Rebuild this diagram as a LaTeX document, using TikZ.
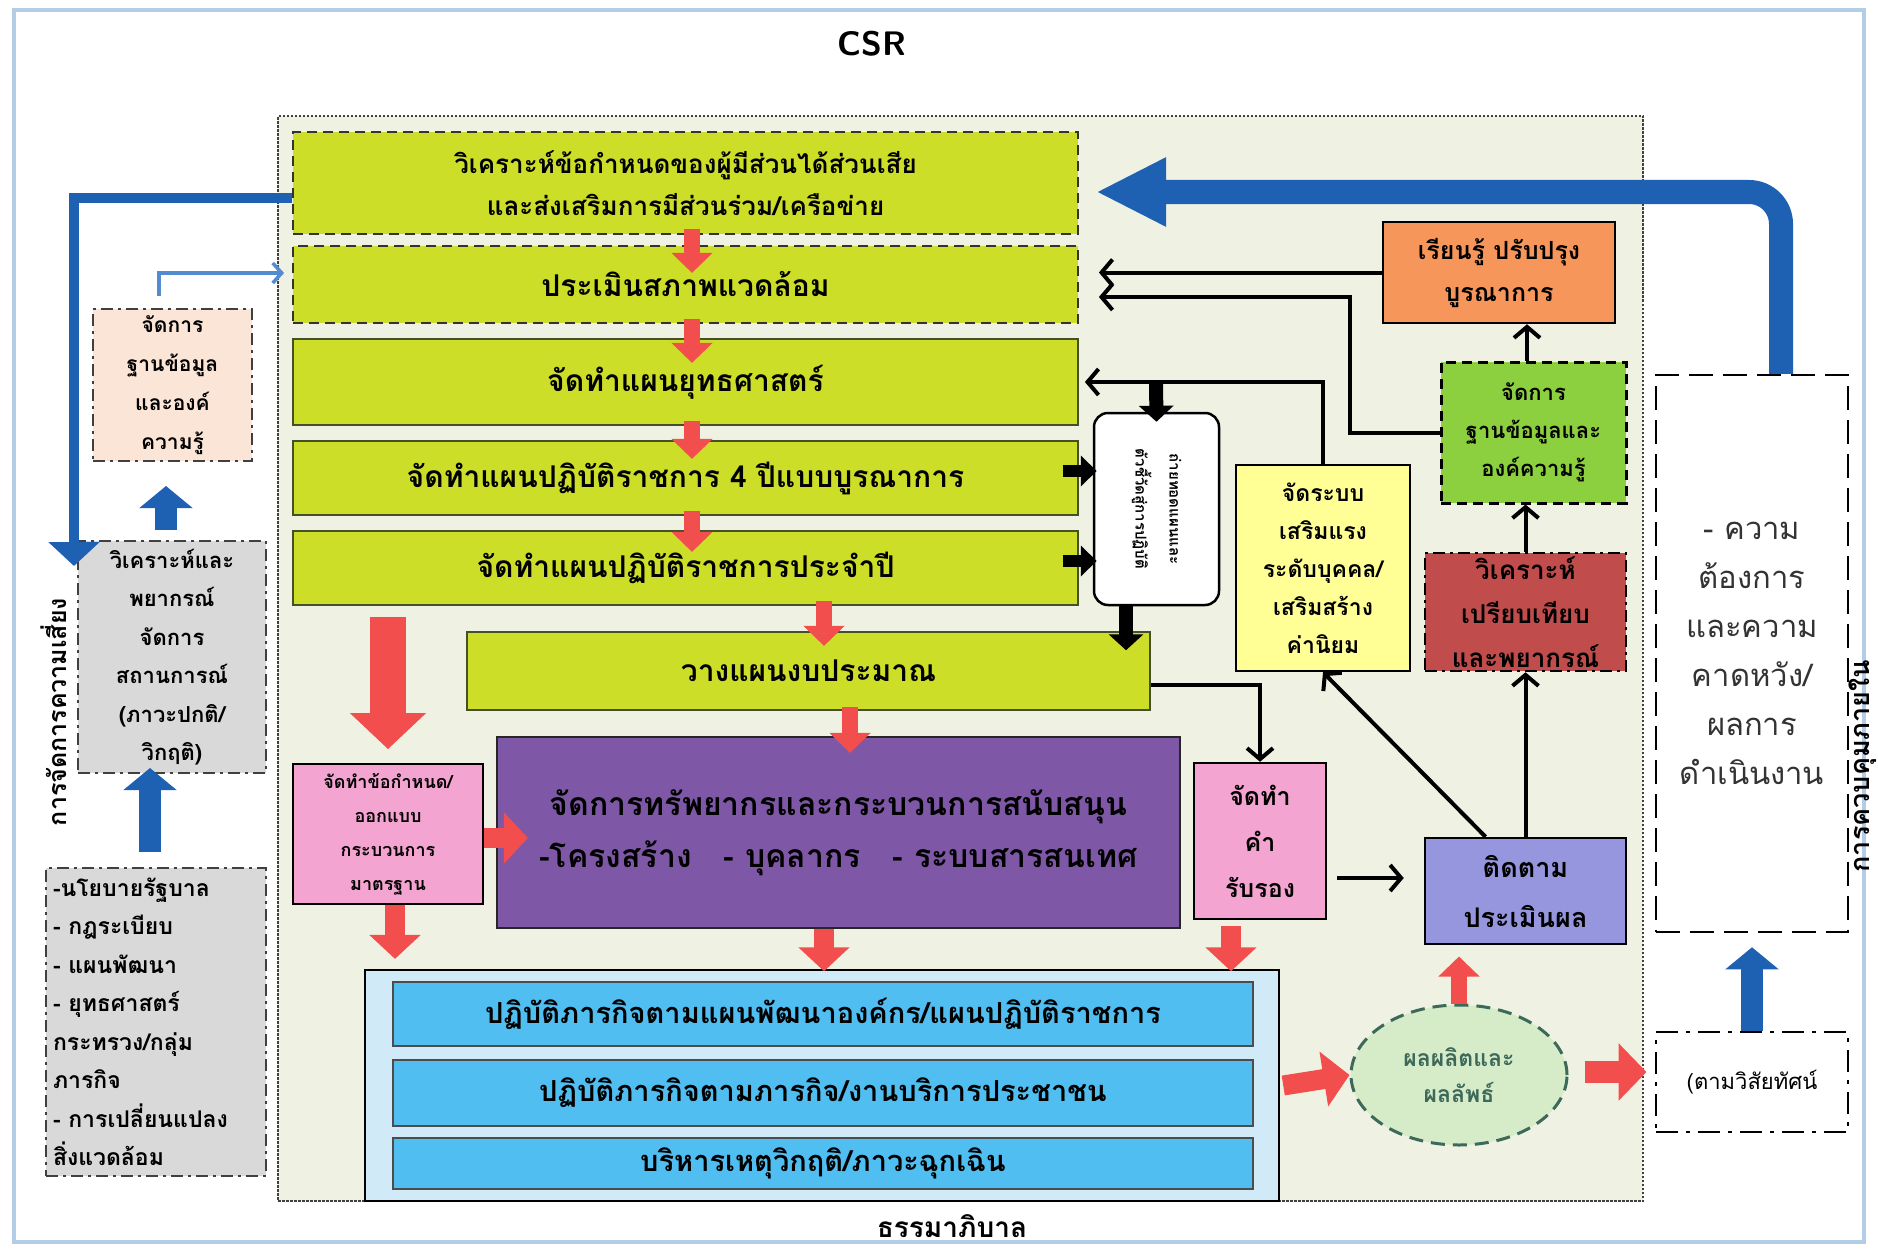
\documentclass[tikz,border=0pt]{standalone}
\usepackage{fontspec}
\setmainfont{Liberation Sans}
\newfontfamily\thai[Script=Thai]{Loma}
\usetikzlibrary{arrows.meta,shapes.geometric,calc}
\definecolor{limeC}{RGB}{205,222,40}
\definecolor{areaC}{RGB}{239,242,226}
\definecolor{pinkC}{RGB}{244,164,208}
\definecolor{purpC}{RGB}{126,88,166}
\definecolor{skyC}{RGB}{80,190,240}
\definecolor{skyL}{RGB}{208,234,248}
\definecolor{orC}{RGB}{247,150,90}
\definecolor{grC}{RGB}{140,208,64}
\definecolor{rdC}{RGB}{192,76,76}
\definecolor{ylC}{RGB}{255,255,150}
\definecolor{lavC}{RGB}{150,150,222}
\definecolor{ellC}{RGB}{214,236,200}
\definecolor{ellB}{RGB}{60,105,90}
\definecolor{peachC}{RGB}{251,229,214}
\definecolor{grayC}{RGB}{217,217,217}
\definecolor{blueA}{RGB}{30,96,178}
\definecolor{blueL}{RGB}{84,140,210}
\definecolor{redA}{RGB}{242,78,78}
\definecolor{frameC}{RGB}{180,205,230}
\definecolor{boxB}{RGB}{70,80,40}
\newcommand\fA{\fontsize{30}{42}\selectfont}
\newcommand\fBone{\fontsize{26}{42}\selectfont}
\begin{document}
\begin{tikzpicture}[x=1pt,y=-1pt,
  bx/.style={draw=boxB, line width=1.8pt, inner sep=2pt, align=center, font=\thai\bfseries\fA},
  limebox/.style={bx, fill=limeC},
  dashb/.style={dash pattern=on 10pt off 6pt},
  dashdot/.style={dash pattern=on 12pt off 5pt on 3pt off 5pt},
  sbox/.style={draw=black, line width=2.5pt, inner sep=2pt, align=center},
  redarr/.style={draw=redA, line width=16pt, -{Triangle[length=20pt,width=40pt]}},
  bigred/.style={draw=redA, line width=36pt, -{Triangle[length=36pt,width=74pt]}},
  bluearr/.style={draw=blueA, line width=22pt, -{Triangle[length=22pt,width=52pt]}},
  blkarr/.style={draw=black, line width=12pt, -{Triangle[length=16pt,width=30pt]}},
  conn/.style={draw=black, line width=4pt, -{Straight Barb[length=11pt,width=26pt]}}
]
\useasboundingbox (0,0) rectangle (1878,1252);
\fill[white] (0,0) rectangle (1878,1252);
\draw[frameC, line width=4pt] (14,10) rectangle (1864,1242);

\node[font=\sffamily\bfseries\fontsize{34}{40}\selectfont] (csr) at (872,44) {CSR};

% main area
\node[draw=black!75, dash pattern=on 2.5pt off 1.5pt, line width=1.5pt, fill=areaC,
  minimum width=1365pt, minimum height=1085pt, inner sep=0] (area) at (960.5,658.5) {};
\node[font=\thai\bfseries\fontsize{28}{32}\selectfont] (gov) at (952,1226) {ธรรมาภิบาล};

% lime boxes
\node[limebox, dashb, draw=black!80, minimum width=785pt, minimum height=102pt, font=\thai\bfseries\fBone] (b1) at (685.5,183)
  {วิเคราะห์ข้อกำหนดของผู้มีส่วนได้ส่วนเสีย\\และส่งเสริมการมีส่วนร่วม/เครือข่าย};
\node[limebox, dashb, draw=black!80, minimum width=785pt, minimum height=77pt] (b2) at (685.5,284.5) {ประเมินสภาพแวดล้อม};
\node[limebox, minimum width=785pt, minimum height=86pt] (b3) at (685.5,382) {จัดทำแผนยุทธศาสตร์};
\node[limebox, minimum width=785pt, minimum height=74pt] (b4) at (685.5,478) {จัดทำแผนปฏิบัติราชการ 4 ปีแบบบูรณาการ};
\node[limebox, minimum width=785pt, minimum height=74pt] (b5) at (685.5,568) {จัดทำแผนปฏิบัติราชการประจำปี};
\node[limebox, minimum width=683pt, minimum height=78pt] (bud) at (808.5,671) {วางแผนงบประมาณ};

% middle
\node[bx, draw=black, fill=pinkC, minimum width=190pt, minimum height=140pt, font=\thai\bfseries\fontsize{18}{34}\selectfont] (pl) at (388,834)
  {จัดทำข้อกำหนด/\\ออกแบบ\\กระบวนการ\\มาตรฐาน};
\node[bx, draw=black!85, line width=2.5pt, fill=purpC, minimum width=683pt, minimum height=191pt, font=\thai\bfseries\fontsize{32}{52}\selectfont] (pu) at (838.5,832.5)
  {จัดการทรัพยากรและกระบวนการสนับสนุน\\-โครงสร้าง\quad - บุคลากร\quad - ระบบสารสนเทศ};
\node[sbox, fill=pinkC, minimum width=132pt, minimum height=156pt, font=\thai\bfseries\fontsize{25}{46}\selectfont] (pr) at (1260,841) {จัดทำ\\คำ\\รับรอง};

% bottom
\node[draw=black, line width=2.5pt, fill=skyL, minimum width=914pt, minimum height=231pt] (bo) at (822,1085.5) {};
\node[bx, draw=black!70, fill=skyC, minimum width=860pt, minimum height=64pt, font=\thai\bfseries\fontsize{29}{34}\selectfont] (ba) at (823,1014)
  {ปฏิบัติภารกิจตามแผนพัฒนาองค์กร/แผนปฏิบัติราชการ};
\node[bx, draw=black!70, fill=skyC, minimum width=860pt, minimum height=66pt, font=\thai\bfseries\fontsize{29}{34}\selectfont] (bb) at (823,1093)
  {ปฏิบัติภารกิจตามภารกิจ/งานบริการประชาชน};
\node[bx, draw=black!70, fill=skyC, minimum width=860pt, minimum height=51pt, font=\thai\bfseries\fontsize{29}{34}\selectfont] (bc) at (823,1163.5)
  {บริหารเหตุวิกฤติ/ภาวะฉุกเฉิน};

\node[ellipse, draw=ellB, line width=3pt, dash pattern=on 14pt off 8pt, fill=ellC, minimum width=216pt, minimum height=140pt,
  align=center, text=ellB, font=\thai\bfseries\fontsize{23}{36}\selectfont] (ell) at (1459,1075) {ผลผลิตและ\\ผลลัพธ์};

% right column
\node[sbox, fill=orC, minimum width=232pt, minimum height=101pt, font=\thai\bfseries\fontsize{25}{42}\selectfont] (or) at (1499,272.5) {เรียนรู้ ปรับปรุง\\บูรณาการ};
\node[sbox, dashb, line width=3pt, fill=grC, minimum width=185pt, minimum height=141pt, font=\thai\bfseries\fontsize{22}{38}\selectfont] (gr) at (1533.5,432.5) {จัดการ\\ฐานข้อมูลและ\\องค์ความรู้};
\node[sbox, fill=ylC, minimum width=174pt, minimum height=206pt, font=\thai\bfseries\fontsize{23}{38}\selectfont] (yl) at (1323,568) {จัดระบบ\\เสริมแรง\\ระดับบุคคล/\\เสริมสร้าง\\ค่านิยม};
\node[sbox, dashdot, fill=rdC, minimum width=201pt, minimum height=118pt, font=\thai\bfseries\fontsize{26}{44}\selectfont] (rd) at (1525.5,612) {วิเคราะห์\\เปรียบเทียบ\\และพยากรณ์};
\node[sbox, fill=lavC, minimum width=201pt, minimum height=106pt, font=\thai\bfseries\fontsize{27}{50}\selectfont] (tt) at (1525.5,891) {ติดตาม\\ประเมินผล};

% rounded vertical box
\node[draw=black, line width=2.5pt, rounded corners=14pt, fill=white, minimum width=125pt, minimum height=192pt] (rb) at (1156.5,509) {};
\node[rotate=-90, align=center, font=\thai\bfseries\fontsize{15}{34}\selectfont] (rbt) at (rb.center) {ถ่ายทอดแผนและ\\ตัวชี้วัดสู่การปฏิบัติ};

% far right
\node[draw=black, line width=2.5pt, dash pattern=on 24pt off 10pt, fill=white, minimum width=192pt, minimum height=557pt,
  align=center, text=black!80, font=\thai\fontsize{31}{49}\selectfont] (tall) at (1752,653.5)
  {- ความ\\ต้องการ\\และความ\\คาดหวัง/\\ผลการ\\ดำเนินงาน};
\node[draw=black, line width=2.5pt, dash pattern=on 22pt off 8pt on 4pt off 8pt, fill=white, minimum width=192pt, minimum height=100pt,
  font=\thai\fontsize{22}{26}\selectfont] (vis) at (1752,1082) {(ตามวิสัยทัศน์};
\node[rotate=90, font=\thai\bfseries\fontsize{27}{30}\selectfont] (ctrl) at (1863,766) {การควบคุมภายใน};

% far left
\node[draw=black!75, line width=2pt, dashdot, fill=peachC, minimum width=159pt, minimum height=152pt, align=center,
  font=\thai\bfseries\fontsize{21}{39}\selectfont] (peach) at (172.5,385) {จัดการ\\ฐานข้อมูล\\และองค์\\ความรู้};
\node[draw=black!75, line width=2pt, dashdot, fill=grayC, minimum width=188pt, minimum height=232pt, align=center,
  font=\thai\bfseries\fontsize{22}{38.5}\selectfont] (gray1) at (172,657) {วิเคราะห์และ\\พยากรณ์\\จัดการ\\สถานการณ์\\(ภาวะปกติ/\\วิกฤติ)};
\node[draw=black!75, line width=2pt, dashdot, fill=grayC, minimum width=220pt, minimum height=308pt, align=left, text width=206pt,
  font=\thai\bfseries\fontsize{23}{38.5}\selectfont] (gray2) at (156,1022)
  {-นโยบายรัฐบาล\\- กฎระเบียบ\\- แผนพัฒนา\\- ยุทธศาสตร์\\กระทรวง/กลุ่ม\\ภารกิจ\\- การเปลี่ยนแปลง\\สิ่งแวดล้อม};
\node[rotate=90, font=\thai\bfseries\fontsize{25}{28}\selectfont] (risk) at (54,712) {การจัดการความเสี่ยง};

% ---- red block arrows
\draw[redarr] ([xshift=6.5pt,yshift=6pt]b1.south) -- ++(0,44);
\draw[redarr] ([xshift=6.5pt,yshift=5pt]b2.south) -- ++(0,44);
\draw[redarr] ([xshift=6.5pt,yshift=5pt]b3.south) -- ++(0,38);
\draw[redarr] ([xshift=6.5pt,yshift=5pt]b4.south) -- ++(0,41);
\draw[redarr] ([xshift=138.5pt,yshift=5pt]b5.south) -- ++(0,45);
\draw[redarr] ([xshift=41.5pt,yshift=4pt]bud.south) -- ++(0,46);
\draw[bigred] ([yshift=146pt]pl.north) -- ([yshift=14pt]pl.north);
\draw[redarr, line width=20pt, -{Triangle[length=24pt,width=50pt]}] ([yshift=-4pt]pl.east) -- ++(44,0);
\draw[redarr, line width=20pt, -{Triangle[length=24pt,width=50pt]}] ([xshift=7pt]pl.south) -- ++(0,54);
\draw[redarr, line width=20pt, -{Triangle[length=24pt,width=50pt]}] ([xshift=-14.5pt]pu.south) -- ++(0,42);
\draw[redarr, line width=20pt, -{Triangle[length=24pt,width=50pt]}] ([xshift=-29pt,yshift=-6pt]pr.south) -- ++(0,45);
\draw[redarr, line width=20pt, -{Triangle[length=26pt,width=54pt]}] ([xshift=3pt]bo.east) -- (ell.west);
\draw[redarr] (ell.north) -- ++(0,-47);
\draw[redarr, line width=22pt, -{Triangle[length=28pt,width=56pt]}] ([xshift=16pt,yshift=3pt]ell.east) -- ++(62,0);

% ---- blue arrows
\coordinate (bigtip) at (1096,192);
\draw[blueA, line width=24pt, rounded corners=32pt, -{Triangle[length=70pt,width=64pt]}] ([xshift=29pt]tall.north) |- (bigtip);
\coordinate (lbtip) at (74,566);
\draw[blueA, line width=10pt, -{Triangle[length=24pt,width=50pt]}] ([yshift=-15pt]b1.west) -| (lbtip);
\draw[blueL, line width=3.5pt, -{Straight Barb[length=9pt,width=20pt]}, shorten <=12pt] ([xshift=-13.5pt]peach.north) |- ([xshift=-8pt,yshift=11.5pt]b2.west);
\draw[bluearr] ([xshift=-6pt,yshift=10pt]gray1.north) -- ([xshift=-6.5pt,yshift=-24pt]peach.south);
\draw[bluearr] ([xshift=-6pt,yshift=15pt]gray2.north) -- ([xshift=-22pt,yshift=6pt]gray1.south);
\draw[bluearr] (vis.north) -- ([yshift=-14pt]tall.south);

% ---- black block arrows
\draw[blkarr] ([xshift=-16pt,yshift=7pt]b4.east) -- ([xshift=4pt,yshift=38pt]rb.west);
\draw[blkarr] ([xshift=-16pt,yshift=7pt]b5.east) -- ([xshift=4pt,yshift=-52pt]rb.west);
\coordinate (rbtop) at (1156,382);
\draw[blkarr, line width=14pt, -{Triangle[length=16pt,width=34pt]}] (rbtop) -- ([yshift=-10pt]rb.north);
\draw[blkarr, line width=14pt, -{Triangle[length=16pt,width=34pt]}] ([xshift=-30.5pt]rb.south) -- ++(0,44);

% ---- black connectors
\draw[conn, shorten >=20pt] (or.west) -- (b2.east |- or.west);
\coordinate (c2) at (1350,297);
\draw[conn, shorten >=20pt] (gr.west) -| (c2) -- (b2.east |- c2);
\draw[conn, shorten >=6pt] (yl.north) |- (b3.east);
\draw[conn] (gr.north -| or.south) ++(28,0) coordinate (ga) (ga) -- (ga |- or.south);
\draw[conn] (rd.north) -- (rd.north |- gr.south);
\draw[conn] (tt.north) -- (tt.north |- rd.south);
\draw[conn] ([xshift=-40pt]tt.north) -- (yl.south);
\draw[conn, shorten <=10pt, shorten >=20pt] (pr.east |- 0,878) -- (tt.west |- 0,878);
\draw[conn] ([yshift=-14pt]bud.east) -| (pr.north);
\end{tikzpicture}
\end{document}
